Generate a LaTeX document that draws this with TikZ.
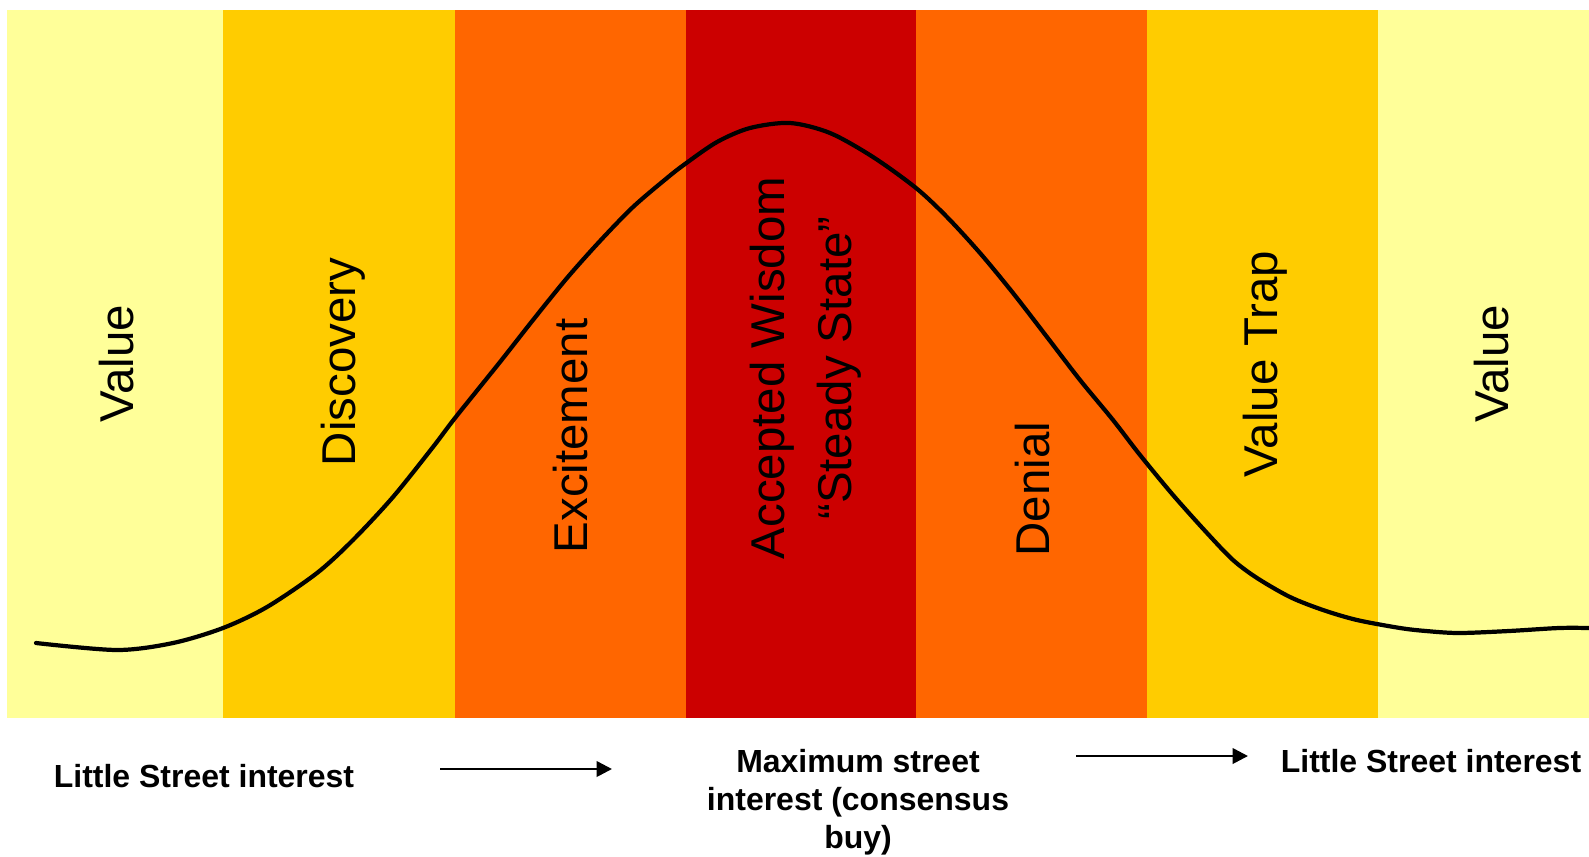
\documentclass[tikz,border=0pt]{standalone}
\usepackage{fontspec}
\setmainfont{Liberation Sans}
\usepackage{xcolor}
\usepackage{tikz}
\usetikzlibrary{arrows.meta}

\definecolor{paleyellow}{HTML}{FFFF99}
\definecolor{goldband}{HTML}{FFCC00}
\definecolor{orangeband}{HTML}{FF6600}
\definecolor{redband}{HTML}{CC0000}

\begin{document}
\begin{tikzpicture}[
    x=0.1mm, y=-0.1mm,
    phasetext/.style={
        rotate=90,
        inner sep=0pt,
        align=center,
        font=\fontsize{13.5}{19}\selectfont
    },
    interesttext/.style={
        inner sep=0pt,
        align=center,
        font=\fontsize{9.1}{10.8}\selectfont\bfseries
    },
    mainarrow/.style={line width=0.75pt, -{Triangle[length=4.4pt, width=4.4pt]}},
    hypecurve/.style={line width=1.2pt, line cap=round}
]

\useasboundingbox (0,0) rectangle (1589,856);

\fill[paleyellow]  (7,10)    rectangle (223,718);
\fill[goldband]    (223,10)  rectangle (455,718);
\fill[orangeband]  (455,10)  rectangle (686,718);
\fill[redband]     (686,10)  rectangle (916,718);
\fill[orangeband]  (916,10)  rectangle (1147,718);
\fill[goldband]    (1147,10) rectangle (1378,718);
\fill[paleyellow]  (1378,10) rectangle (1589,718);

\draw[hypecurve] plot[smooth, tension=0.5] coordinates {
    (36,643) (117,650) (173,643) (223,628) (267,607) (317,573)
    (353,540) (393,497) (433,447) (455,418) (500,362) (533,320)
    (567,278) (600,241) (633,207) (667,178) (685,164) (717,142)
    (750,128) (790,123) (830,133) (873,157) (916,188) (947,217)
    (980,253) (1013,293) (1047,337) (1080,380) (1113,420) (1140,455)
    (1173,495) (1207,533) (1233,560) (1257,578) (1290,597) (1323,610)
    (1357,620) (1400,628) (1426,631) (1459,633) (1509,631) (1559,628)
    (1589,628)};

\node[phasetext] (valueA)     at (117, 364)  {Value};
\node[phasetext] (discovery)  at (343, 362)  {Discovery};
\node[phasetext] (excitement) at (571, 436)  {Excitement};
\node[phasetext] (wisdom)     at (806, 368)  {Accepted Wisdom\\“Steady State”};
\node[phasetext] (denial)     at (1033, 489) {Denial};
\node[phasetext] (valuetrap)  at (1265, 364) {Value Trap};
\node[phasetext] (valueB)     at (1492, 364) {Value};

\node[interesttext, anchor=base] (interestleft)  at (204, 787)  {Little Street interest};
\node[interesttext]              (interestmax)   at (858, 802)  {Maximum street\\interest (consensus\\buy)};
\node[interesttext, anchor=base] (interestright) at (1431, 772) {Little Street interest};

\coordinate (riseA) at (440, 769);
\coordinate (riseB) at (612, 769);
\coordinate (fallA) at (1076, 756);
\coordinate (fallB) at (1248, 756);

\draw[mainarrow] (riseA) -- (riseB);
\draw[mainarrow] (fallA) -- (fallB);

\end{tikzpicture}
\end{document}
